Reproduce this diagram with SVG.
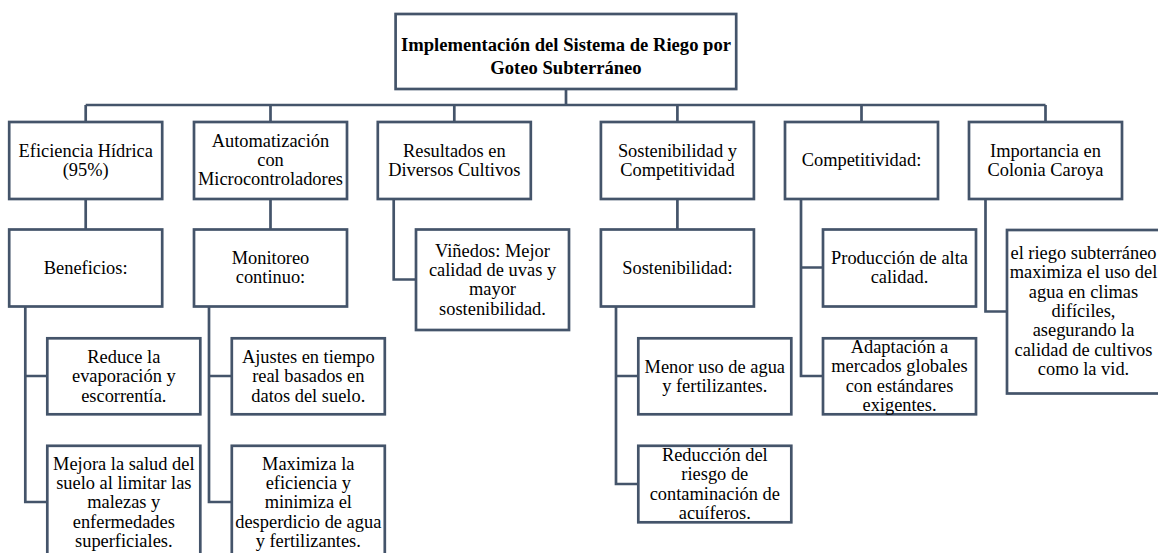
<svg xmlns="http://www.w3.org/2000/svg" width="1158" height="553" viewBox="0 0 1158 553" font-family="Liberation Serif, Tinos, DejaVu Serif, Noto Serif, serif">
<style>
.box{fill:#fff;stroke:#44546A;stroke-width:2.7}
.con{fill:none;stroke:#44546A;stroke-width:2.7}
text{font-family:'Liberation Serif',Tinos,'DejaVu Serif','Noto Serif',serif;font-size:18.4px;fill:#000;text-anchor:middle}
.t{font-weight:bold;font-size:18.6px}
</style>
<rect width="1158" height="553" fill="#fff"/>
<g id="connectors">
<path class="con" d="M566,89V105M85.7,105H1045.5M85.7,105V122M270.5,105V122M454.3,105V122M677.4,105V122M861.5,105V122M1045.5,105V122"/>
<path class="con" d="M85.7,199V229.5M270.5,199V229.5M677.4,199V229.5"/>
<path class="con" d="M393.7,199V279.5H416"/>
<path class="con" d="M801,199V376H823M801,267.5H823"/>
<path class="con" d="M985.5,199V311.5H1007"/>
<path class="con" d="M25.3,306V502H47.3M25.3,376H47.3"/>
<path class="con" d="M209,306V502H231.8M209,376H231.8"/>
<path class="con" d="M616,306V484H638.3M616,376H638.3"/>
</g>
<g id="root"><rect class="box" x="395.6" y="14" width="340.6" height="75"/>
<text class="t" x="566" y="50.5">Implementación del Sistema de Riego por<tspan x="566" y="73.5">Goteo Subterráneo</tspan></text></g>
<g id="eficiencia"><rect class="box" x="9.2" y="122" width="153" height="77"/>
<text x="85.7" y="156.5">Eficiencia Hídrica<tspan x="85.7" y="175.8">(95%)</tspan></text></g>
<g id="automatizacion"><rect class="box" x="194" y="122" width="153" height="77"/>
<text x="270.5" y="146.8">Automatización<tspan x="270.5" y="166.1">con</tspan><tspan x="270.5" y="185.4">Microcontroladores</tspan></text></g>
<g id="resultados"><rect class="box" x="377.8" y="122" width="153" height="77"/>
<text x="454.3" y="156.5">Resultados en<tspan x="454.3" y="175.8">Diversos Cultivos</tspan></text></g>
<g id="sostycomp"><rect class="box" x="600.9" y="122" width="153" height="77"/>
<text x="677.4" y="156.5">Sostenibilidad y<tspan x="677.4" y="175.8">Competitividad</tspan></text></g>
<g id="competitividad"><rect class="box" x="785" y="122" width="153" height="77"/>
<text x="861.5" y="166.2">Competitividad:</text></g>
<g id="importancia"><rect class="box" x="969" y="122" width="153" height="77"/>
<text x="1045.5" y="156.5">Importancia en<tspan x="1045.5" y="175.8">Colonia Caroya</tspan></text></g>
<g id="beneficios"><rect class="box" x="9.2" y="229.5" width="153" height="77"/>
<text x="85.7" y="274">Beneficios:</text></g>
<g id="monitoreo"><rect class="box" x="194" y="229.5" width="153" height="77"/>
<text x="270.5" y="264">Monitoreo<tspan x="270.5" y="283.3">continuo:</tspan></text></g>
<g id="vinedos"><rect class="box" x="416" y="229.5" width="153" height="100.5"/>
<text x="492.5" y="256.7">Viñedos: Mejor<tspan x="492.5" y="276">calidad de uvas y</tspan><tspan x="492.5" y="295.3">mayor</tspan><tspan x="492.5" y="314.6">sostenibilidad.</tspan></text></g>
<g id="sostenibilidad"><rect class="box" x="600.9" y="229.5" width="153" height="77"/>
<text x="677.4" y="274">Sostenibilidad:</text></g>
<g id="produccion"><rect class="box" x="823" y="229.5" width="153" height="77"/>
<text x="899.5" y="264">Producción de alta<tspan x="899.5" y="283.3">calidad.</tspan></text></g>
<g id="colonia"><rect class="box" x="1007" y="230" width="153" height="163.5"/>
<text x="1083.5" y="259">el riego subterráneo<tspan x="1083.5" y="278.3">maximiza el uso del</tspan><tspan x="1083.5" y="297.6">agua en climas</tspan><tspan x="1083.5" y="316.9">difíciles,</tspan><tspan x="1083.5" y="336.2">asegurando la</tspan><tspan x="1083.5" y="355.5">calidad de cultivos</tspan><tspan x="1083.5" y="374.8">como la vid.</tspan></text></g>
<g id="reduce"><rect class="box" x="47.3" y="338.3" width="153" height="76"/>
<text x="123.8" y="363">Reduce la<tspan x="123.8" y="382.3">evaporación y</tspan><tspan x="123.8" y="401.6">escorrentía.</tspan></text></g>
<g id="mejora"><rect class="box" x="47.3" y="445.8" width="153" height="112"/>
<text x="123.8" y="469.7">Mejora la salud del<tspan x="123.8" y="489">suelo al limitar las</tspan><tspan x="123.8" y="508.3">malezas y</tspan><tspan x="123.8" y="527.6">enfermedades</tspan><tspan x="123.8" y="546.9">superficiales.</tspan></text></g>
<g id="ajustes"><rect class="box" x="231.8" y="338.3" width="153" height="76"/>
<text x="308.3" y="363">Ajustes en tiempo<tspan x="308.3" y="382.3">real basados en</tspan><tspan x="308.3" y="401.6">datos del suelo.</tspan></text></g>
<g id="maximiza"><rect class="box" x="231.8" y="445.8" width="153" height="112"/>
<text x="308.3" y="469.7">Maximiza la<tspan x="308.3" y="489">eficiencia y</tspan><tspan x="308.3" y="508.3">minimiza el</tspan><tspan x="308.3" y="527.6">desperdicio de agua</tspan><tspan x="308.3" y="546.9">y fertilizantes.</tspan></text></g>
<g id="menor"><rect class="box" x="638.3" y="338.3" width="153" height="76"/>
<text x="714.8" y="372.6">Menor uso de agua<tspan x="714.8" y="391.9">y fertilizantes.</tspan></text></g>
<g id="reduccion"><rect class="box" x="638.3" y="445.8" width="153" height="76.5"/>
<text x="714.8" y="461">Reducción del<tspan x="714.8" y="480.3">riesgo de</tspan><tspan x="714.8" y="499.6">contaminación de</tspan><tspan x="714.8" y="518.9">acuíferos.</tspan></text></g>
<g id="adaptacion"><rect class="box" x="823" y="338.3" width="153" height="76"/>
<text x="899.5" y="353">Adaptación a<tspan x="899.5" y="372.3">mercados globales</tspan><tspan x="899.5" y="391.6">con estándares</tspan><tspan x="899.5" y="410.9">exigentes.</tspan></text></g>
</svg>
